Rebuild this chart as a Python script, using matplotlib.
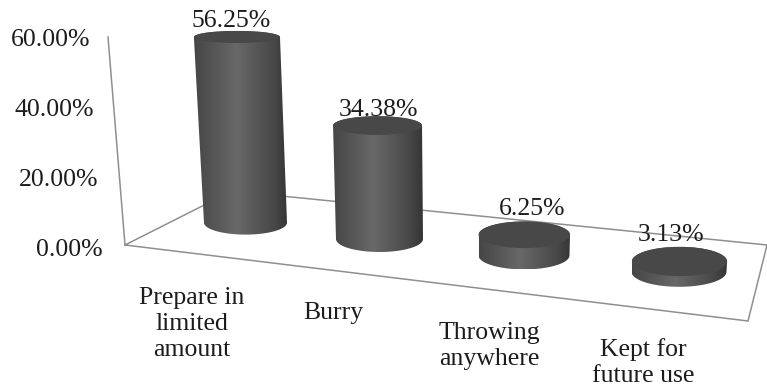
import numpy as np
import matplotlib
matplotlib.use("Agg")
import matplotlib.pyplot as plt
from matplotlib.patches import Ellipse, PathPatch
from matplotlib.path import Path
from matplotlib.colors import LinearSegmentedColormap

plt.rcParams['font.family'] = ['Liberation Serif', 'DejaVu Serif']

categories = ["Prepare in\nlimited\namount", "Burry", "Throwing\nanywhere", "Kept for\nfuture use"]
values = [56.25, 34.38, 6.25, 3.13]
value_labels = ["56.25%", "34.38%", "6.25%", "3.13%"]
axis_ticks = [0, 20, 40, 60]
axis_tick_labels = ["0.00%", "20.00%", "40.00%", "60.00%"]

W, H = 767, 387
PX_PER_PCT = 3.3
FONT = 18.5
TEXT = "#1c1c1c"
LINE = "#8f8f8f"

shade = LinearSegmentedColormap.from_list(
    "shade", [(0, "#464646"), (0.45, "#686868"), (0.85, "#484848"), (1, "#353535")])


def floor_xy(i):
    # perspective along the floor: spacing grows towards the viewer
    return 245.5 + 128.75 * i + 5.25 * i * i, 222.6 + 16.4 * i


def arc(cx, cy, rx, ry, start, stop, n=60):
    t = np.linspace(start, stop, n)
    return np.column_stack([cx + rx * np.cos(t), cy + ry * np.sin(t)])


def cylinder(ax, i, value):
    x0, y0 = floor_xy(i)
    rx0, ry0 = 41.5 + 2 * i, 12 + i
    h = value * PX_PER_PCT
    x1 = x0 + (x0 - 460) * h * 0.000215
    y1 = y0 - h
    rx1 = rx0 * (1 + h * 0.0002)
    ry1 = ry0 - 0.032 * h

    # y axis points down here, so angle 0..pi is the lower half of the ellipse
    bottom = arc(x0, y0, rx0, ry0, np.pi, 0)
    top = arc(x1, y1, rx1, ry1, 0, -np.pi)
    pts = np.vstack([bottom, top, bottom[:1]])
    codes = [Path.MOVETO] + [Path.LINETO] * (len(pts) - 2) + [Path.CLOSEPOLY]
    side = PathPatch(Path(pts, codes), fc="none", ec="none", zorder=4)
    ax.add_patch(side)

    left, right = min(x0 - rx0, x1 - rx1), max(x0 + rx0, x1 + rx1)
    grad = np.linspace(0, 1, 200).reshape(1, -1)
    im = ax.imshow(grad, cmap=shade, extent=(left, right, y0 + ry0, y1 - ry1),
                   aspect="auto", zorder=4, interpolation="bilinear")
    im.set_clip_path(side)
    ax.add_patch(Ellipse((x1, y1), 2 * rx1, 2 * ry1, fc="#484848", ec="none", zorder=5))
    return x1, y1 - ry1


fig = plt.figure(figsize=(W / 100, H / 100), dpi=100)
ax = fig.add_axes([0, 0, 1, 1])

# floor outline and the vertical axis
corner = (125, 245)
ax.plot([108, corner[0], 748, 767, 232, corner[0]],
        [37, corner[1], 321, 245, 191, corner[1]],
        color=LINE, lw=1.1, zorder=1, solid_joinstyle="miter")

for v, lab in zip(axis_ticks, axis_tick_labels):
    ax.text(103 - v * 13 / 60, 250 - v * 3.5, lab, ha="right", va="center",
            fontsize=FONT, color=TEXT)

label_dx = [-6, 1, 8, -8]
label_dy = [-4, 0, -6, -6]
for i, (v, lab) in enumerate(zip(values, value_labels)):
    tx, ty = cylinder(ax, i, v)
    ax.text(tx + label_dx[i], ty + label_dy[i], lab, ha="center", va="baseline",
            fontsize=FONT, color=TEXT, zorder=3)

category_x = [192, 333, 489, 643]
category_y = [287, 302, 322, 338]
for name, cx, cy in zip(categories, category_x, category_y):
    ax.text(cx, cy, name, ha="center", va="top",
            fontsize=FONT, color=TEXT, linespacing=1.25)

ax.set_xlim(0, W)
ax.set_ylim(H, 0)
ax.axis("off")
fig.savefig("out.png", dpi=100)
